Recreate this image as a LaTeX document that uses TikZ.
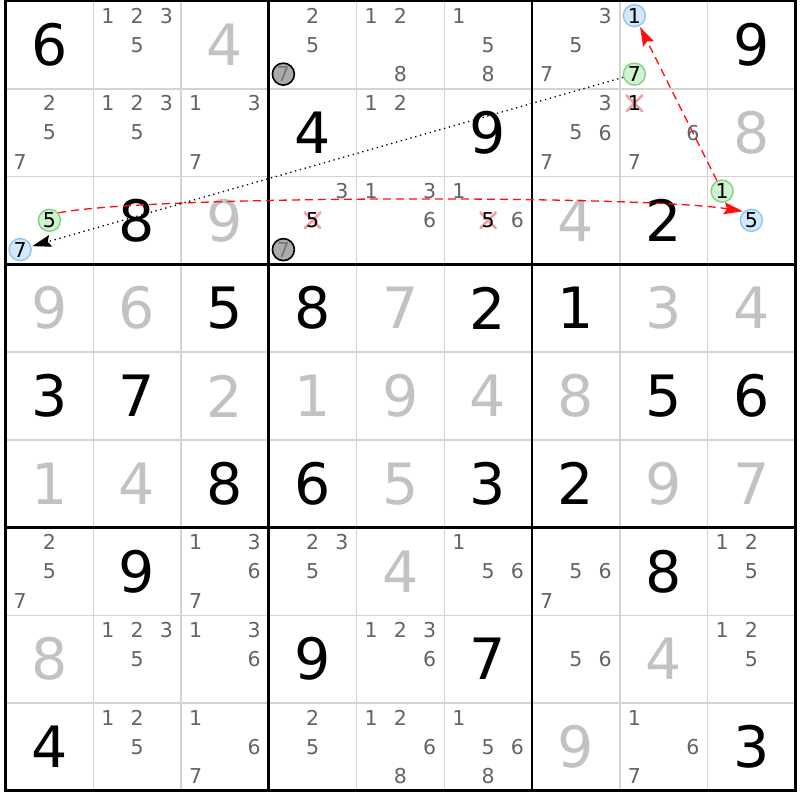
\documentclass[tikz,border=0pt]{standalone}
\usepackage{fontspec}
\setmainfont{DejaVu Sans}
\usetikzlibrary{arrows.meta}
\definecolor{solvedc}{HTML}{C2C2C2}
\definecolor{candc}{HTML}{646464}
\definecolor{gridc}{HTML}{D4D4D4}
\definecolor{bluefill}{HTML}{D4E8FC}
\definecolor{bluedraw}{HTML}{90C4F4}
\definecolor{greenfill}{HTML}{D0F2D0}
\definecolor{greendraw}{HTML}{80D480}
\definecolor{grayfill}{HTML}{ABABAB}
\definecolor{grayseven}{HTML}{787878}
\definecolor{xcol}{HTML}{F4A0A8}
\definecolor{linkred}{HTML}{FF1010}
\tikzset{
  given/.style={inner sep=0pt, font=\fontsize{57}{60}\selectfont, text=black},
  solved/.style={given, text=solvedc},
  cand/.style={inner sep=0pt, font=\fontsize{20.5}{22}\selectfont, text=candc},
  hilite/.style={cand, circle, minimum size=22pt, line width=1.4pt, text=black},
  bluec/.style={hilite, fill=bluefill, draw=bluedraw},
  greenc/.style={hilite, fill=greenfill, draw=greendraw},
  grayc/.style={hilite, fill=grayfill, draw=black, line width=1.6pt, text=grayseven},
  elim/.style={cand, text=black, minimum size=17pt,
    path picture={\draw[xcol, line width=2.8pt]
      (path picture bounding box.south west) -- (path picture bounding box.north east)
      (path picture bounding box.north west) -- (path picture bounding box.south east);}},
  thingrid/.style={draw=gridc, line width=1.5pt},
  thickgrid/.style={draw=black, line width=2.8pt},
  redlink/.style={draw=linkred, line width=1.3pt, dash pattern=on 8pt off 5pt, shorten >=1pt,
    -{Stealth[length=19pt,width=12pt,inset=3pt,fill=linkred]}},
  blacklink/.style={draw=black, line width=1.3pt, dash pattern=on 1.3pt off 3.7pt, shorten >=1pt,
    -{Stealth[length=19pt,width=12pt,inset=3pt,fill=black]}}
}
\newcommand\gv[4]{\node[#4] (v#1#2) at ({5.5+87.75*(#2-0.5)},{1+87.75*(#1-0.5)}) {#3};}
\newcommand\cnd[4]{\node[#4] (k#1#2#3) at ({5.5+87.75*(#2-1)+29.25*(mod(#3-1,3)+0.5)},{1+87.75*(#1-1)+29.25*(floor((#3-1)/3)+0.5)}) {#3};}
\newcommand\cands[3]{\foreach \d in {#3}{\cnd{#1}{#2}{\d}{cand}}}
\begin{document}
\begin{tikzpicture}[x=1pt,y=-1pt]
\useasboundingbox (0,0) rectangle (800,800);
\fill[white] (0,0) rectangle (800,800);
% grid
\foreach \i in {1,2,4,5,7,8}{
  \draw[thingrid] ({5.5+87.75*\i},1) -- ({5.5+87.75*\i},790.75);
  \draw[thingrid] (5.5,{1+87.75*\i}) -- (795.25,{1+87.75*\i});
}
\foreach \i in {3,6}{
  \draw[thickgrid] ({5.5+87.75*\i},1) -- ({5.5+87.75*\i},790.75);
  \draw[thickgrid] (5.5,{1+87.75*\i}) -- (795.25,{1+87.75*\i});
}
\draw[thickgrid] (5.5,1) rectangle (795.25,790.75);
% row 1
\gv{1}{1}{6}{given} \cands{1}{2}{1,2,3,5} \gv{1}{3}{4}{solved}
\cands{1}{4}{2,5} \cnd{1}{4}{7}{grayc} \cands{1}{5}{1,2,8} \cands{1}{6}{1,5,8}
\cands{1}{7}{3,5,7} \cnd{1}{8}{1}{bluec} \cnd{1}{8}{7}{greenc} \gv{1}{9}{9}{given}
% row 2
\cands{2}{1}{2,5,7} \cands{2}{2}{1,2,3,5} \cands{2}{3}{1,3,7}
\gv{2}{4}{4}{given} \cands{2}{5}{1,2} \gv{2}{6}{9}{given}
\cands{2}{7}{3,5,6,7} \cnd{2}{8}{1}{elim} \cands{2}{8}{6,7} \gv{2}{9}{8}{solved}
% row 3
\cnd{3}{1}{5}{greenc} \cnd{3}{1}{7}{bluec} \gv{3}{2}{8}{given} \gv{3}{3}{9}{solved}
\cands{3}{4}{3} \cnd{3}{4}{5}{elim} \cnd{3}{4}{7}{grayc}
\cands{3}{5}{1,3,6} \cands{3}{6}{1,6} \cnd{3}{6}{5}{elim}
\gv{3}{7}{4}{solved} \gv{3}{8}{2}{given} \cnd{3}{9}{1}{greenc} \cnd{3}{9}{5}{bluec}
% row 4
\gv{4}{1}{9}{solved} \gv{4}{2}{6}{solved} \gv{4}{3}{5}{given}
\gv{4}{4}{8}{given} \gv{4}{5}{7}{solved} \gv{4}{6}{2}{given}
\gv{4}{7}{1}{given} \gv{4}{8}{3}{solved} \gv{4}{9}{4}{solved}
% row 5
\gv{5}{1}{3}{given} \gv{5}{2}{7}{given} \gv{5}{3}{2}{solved}
\gv{5}{4}{1}{solved} \gv{5}{5}{9}{solved} \gv{5}{6}{4}{solved}
\gv{5}{7}{8}{solved} \gv{5}{8}{5}{given} \gv{5}{9}{6}{given}
% row 6
\gv{6}{1}{1}{solved} \gv{6}{2}{4}{solved} \gv{6}{3}{8}{given}
\gv{6}{4}{6}{given} \gv{6}{5}{5}{solved} \gv{6}{6}{3}{given}
\gv{6}{7}{2}{given} \gv{6}{8}{9}{solved} \gv{6}{9}{7}{solved}
% row 7
\cands{7}{1}{2,5,7} \gv{7}{2}{9}{given} \cands{7}{3}{1,3,6,7}
\cands{7}{4}{2,3,5} \gv{7}{5}{4}{solved} \cands{7}{6}{1,5,6}
\cands{7}{7}{5,6,7} \gv{7}{8}{8}{given} \cands{7}{9}{1,2,5}
% row 8
\gv{8}{1}{8}{solved} \cands{8}{2}{1,2,3,5} \cands{8}{3}{1,3,6}
\gv{8}{4}{9}{given} \cands{8}{5}{1,2,3,6} \gv{8}{6}{7}{given}
\cands{8}{7}{5,6} \gv{8}{8}{4}{solved} \cands{8}{9}{1,2,5}
% row 9
\gv{9}{1}{4}{given} \cands{9}{2}{1,2,5} \cands{9}{3}{1,6,7}
\cands{9}{4}{2,5} \cands{9}{5}{1,2,6,8} \cands{9}{6}{1,5,6,8}
\gv{9}{7}{9}{solved} \cands{9}{8}{1,6,7} \gv{9}{9}{3}{given}
% links
\draw[redlink] (k315.40) .. controls (150,195) and (640,195) .. (k395.130);
\draw[redlink] (k391) -- (k181);
\draw[blacklink] (k187) -- (k317);
\end{tikzpicture}
\end{document}
